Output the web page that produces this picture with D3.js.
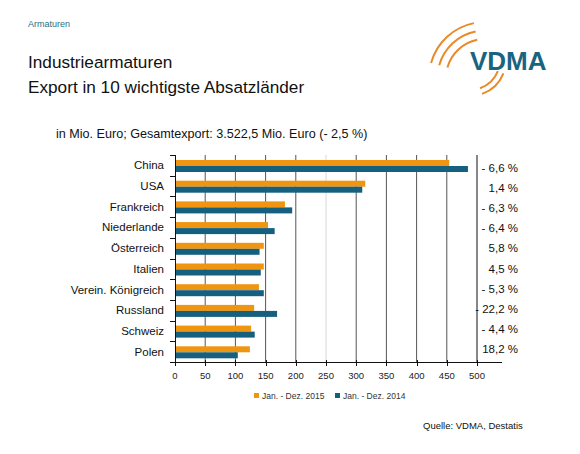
<!DOCTYPE html>
<html><head><meta charset="utf-8">
<script src="https://cdn.jsdelivr.net/npm/d3@7"></script>
<style>body{margin:0;background:#fff}svg{display:block;font-family:Arial,"Liberation Sans",sans-serif}</style>
</head><body><svg id="c" width="580" height="454"></svg>
<script>
const categories = ["China","USA","Frankreich","Niederlande","Österreich","Italien","Verein. Königreich","Russland","Schweiz","Polen"];
const values2015 = [454, 315, 182, 154, 147, 147, 139, 131, 126, 124];
const values2014 = [485, 310, 194, 165, 140, 142, 147, 169, 132, 104];
const changeLabels = ["- 6,6 %","1,4 %","- 6,3 %","- 6,4 %","5,8 %","4,5 %","- 5,3 %","- 22,2 %","- 4,4 %","18,2 %"];
const xTicks = [0,50,100,150,200,250,300,350,400,450,500];
const seriesNames = ["Jan. - Dez. 2015","Jan. - Dez. 2014"];
const colors = ["#f0950f","#15607f"];

const svg = d3.select("#c");
const x = d3.scaleLinear().domain([0,500]).range([175,477]);
const y = d3.scaleBand().domain(categories).range([155,362]);

// header
svg.append("text").attr("x",28).attr("y",27).attr("font-size",9).attr("fill","#2b6f80").text("Armaturen");
svg.append("text").attr("x",28).attr("y",68).attr("font-size",17.2).attr("fill","#111").text("Industriearmaturen");
svg.append("text").attr("x",28).attr("y",93).attr("font-size",17.2).attr("fill","#111").text("Export in 10 wichtigste Absatzländer");
svg.append("text").attr("x",56).attr("y",138).attr("font-size",12.6).attr("fill","#111").text("in Mio. Euro; Gesamtexport: 3.522,5 Mio. Euro (- 2,5 %)");

// logo
const logo = svg.append("g");
const arc = d3.arc();
[57,48.5,40].forEach(r=>{
  logo.append("path").attr("transform","translate(485,78)")
    .attr("d",arc({innerRadius:r-2,outerRadius:r,startAngle:-1.3,endAngle:-0.2}))
    .attr("fill","#e8892a");
});
[37,31].forEach(r=>{
  logo.append("path").attr("transform","translate(470,60)")
    .attr("d",arc({innerRadius:r-2,outerRadius:r,startAngle:1.95,endAngle:2.8}))
    .attr("fill","#e8892a");
});
logo.append("text").attr("x",470).attr("y",70).attr("font-size",26).attr("font-weight","bold").attr("fill","#1a6480").text("VDMA");

// grid
svg.append("g").selectAll("line").data(xTicks.slice(1)).join("line")
  .attr("x1",d=>x(d)).attr("x2",d=>x(d)).attr("y1",155).attr("y2",362)
  .attr("stroke",d=>d===250?"#d8d8d8":(d===500?"#111":"#555")).attr("stroke-width",1);

// bars
const bh = 6;
svg.append("g").selectAll("rect").data(categories).join("rect")
  .attr("x",x(0)).attr("y",d=>y(d)+5).attr("width",(d,i)=>x(values2015[i])-x(0)).attr("height",bh).attr("fill",colors[0]);
svg.append("g").selectAll("rect").data(categories).join("rect")
  .attr("x",x(0)).attr("y",d=>y(d)+5+bh).attr("width",(d,i)=>x(values2014[i])-x(0)).attr("height",bh).attr("fill",colors[1]);

// left axis
const yAxis = svg.append("g");
yAxis.append("line").attr("x1",175.5).attr("x2",175.5).attr("y1",155).attr("y2",362).attr("stroke","#111");
yAxis.selectAll("line.t").data(d3.range(categories.length+1)).join("line").attr("class","t")
  .attr("x1",170).attr("x2",175).attr("y1",i=>Math.round(155+i*y.step())+0.5).attr("y2",i=>Math.round(155+i*y.step())+0.5).attr("stroke","#111");
yAxis.selectAll("text").data(categories).join("text")
  .attr("x",164).attr("y",d=>y(d)+y.bandwidth()/2+4).attr("text-anchor","end").attr("font-size",11.5).attr("fill","#111").text(d=>d);

// bottom axis
const xAxis = svg.append("g");
xAxis.append("line").attr("x1",175).attr("x2",502).attr("y1",362.5).attr("y2",362.5).attr("stroke","#111");
xAxis.selectAll("line.t").data(xTicks).join("line").attr("class","t")
  .attr("x1",d=>Math.round(x(d))+0.5).attr("x2",d=>Math.round(x(d))+0.5).attr("y1",360).attr("y2",366).attr("stroke","#111");
xAxis.selectAll("text").data(xTicks).join("text")
  .attr("x",d=>x(d)).attr("y",379).attr("text-anchor","middle").attr("font-size",9.5).attr("fill","#222").text(d=>d);

// change labels
const yl = d3.scalePoint().domain(categories).range([168,349]);
svg.append("g").selectAll("text").data(categories).join("text")
  .attr("x",518).attr("y",d=>yl(d)+4).attr("text-anchor","end").attr("font-size",11.5).attr("fill","#111")
  .text((d,i)=>changeLabels[i]);

// legend
const lg = svg.append("g");
const lx = [254,335];
seriesNames.forEach((n,i)=>{
  lg.append("rect").attr("x",lx[i]).attr("y",393).attr("width",5).attr("height",5).attr("fill",colors[i]);
  lg.append("text").attr("x",lx[i]+8).attr("y",399).attr("font-size",8.5).attr("fill","#333").text(n);
});

svg.append("text").attr("x",423).attr("y",429).attr("font-size",9.5).attr("fill","#111").text("Quelle: VDMA, Destatis");
</script></body></html>
